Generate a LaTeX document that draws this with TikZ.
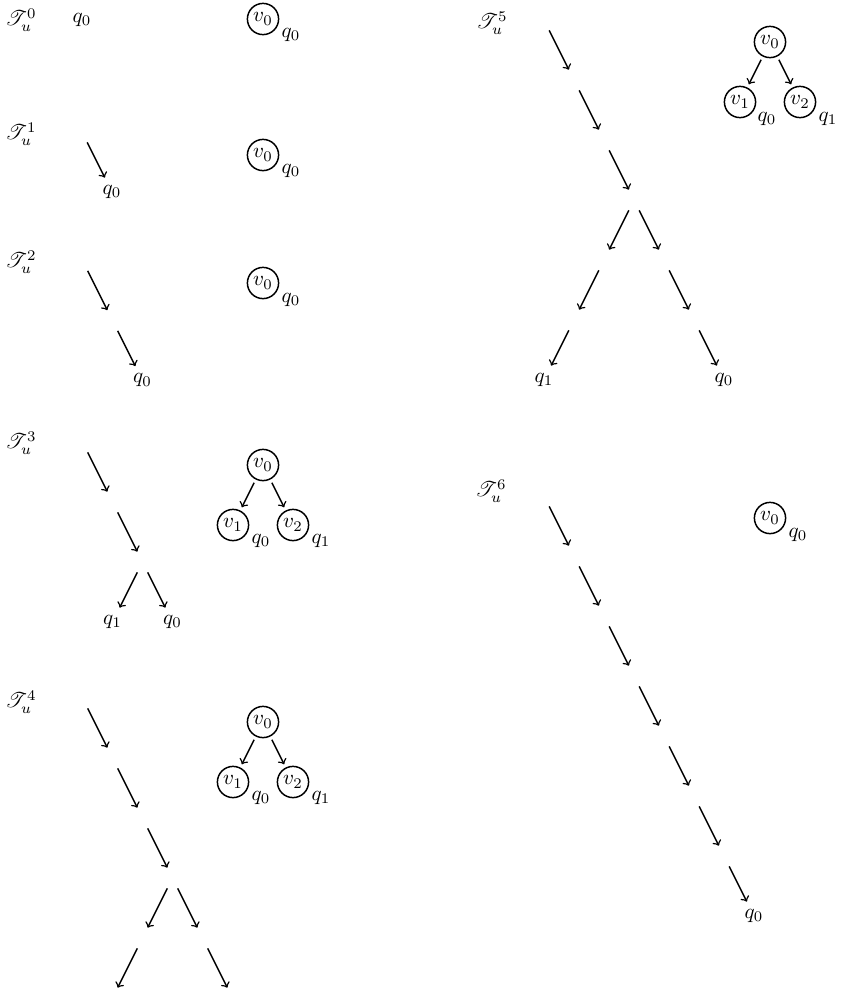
\documentclass[tikz,border=0pt]{standalone}
\usepackage{mathrsfs}
\begin{document}
\begin{tikzpicture}[x=0.0166667cm,y=-0.0166667cm,line width=0.7pt,
  tn/.style={circle,inner sep=0pt,minimum size=0.36cm},
  vn/.style={circle,draw,inner sep=1pt,minimum size=0.52cm,outer sep=2pt},
  ed/.style={->}]
\useasboundingbox (0,0) rectangle (841,995);

% row labels
\node (L0) at (21,20) {$\mathscr{T}_u^0$};
\node (L1) at (21,134) {$\mathscr{T}_u^1$};
\node (L2) at (21,262) {$\mathscr{T}_u^2$};
\node (L3) at (21,443) {$\mathscr{T}_u^3$};
\node (L4) at (21,702) {$\mathscr{T}_u^4$};
\node (L5) at (492,23) {$\mathscr{T}_u^5$};
\node (L6) at (491,491) {$\mathscr{T}_u^6$};

% T0
\node (a0) at (82,20) {$q_0$};
\node[vn] (av0) at (263,19) {$v_0$};
\node (avq0) at (291,35) {$q_0$};

% T1
\node[tn] (b0) at (82,132) {};
\node (b1) at (112,192) {$q_0$};
\draw[ed] (b0) -- (b1);
\node[vn] (bv0) at (263,155) {$v_0$};
\node (bvq0) at (291,171) {$q_0$};

% T2
\node[tn] (c0) at (82.5,260.5) {};
\node[tn] (c1) at (112.5,320.5) {};
\node (c2) at (142.5,380.5) {$q_0$};
\draw[ed] (c0) -- (c1);
\draw[ed] (c1) -- (c2);
\node[vn] (cv0) at (263,283) {$v_0$};
\node (cvq0) at (291,300) {$q_0$};

% T3
\node[tn] (d0) at (82.5,442) {};
\node[tn] (d1) at (112.5,502) {};
\node[tn] (d2) at (142.5,562) {};
\node (d3) at (112.5,622) {$q_1$};
\node (d4) at (172.5,622) {$q_0$};
\foreach \s/\t in {d0/d1,d1/d2,d2/d3,d2/d4} \draw[ed] (\s) -- (\t);
\node[vn] (dv0) at (263,465) {$v_0$};
\node[vn] (dv1) at (233,525) {$v_1$};
\node[vn] (dv2) at (293,525) {$v_2$};
\node (dvq1) at (261,541) {$q_0$};
\node (dvq2) at (321,541) {$q_1$};
\draw[ed] (dv0) -- (dv1);
\draw[ed] (dv0) -- (dv2);

% T4
\node[tn] (e0) at (82.5,698) {};
\node[tn] (e1) at (112.5,758) {};
\node[tn] (e2) at (142.5,818) {};
\node[tn] (e3) at (172.5,878) {};
\node[tn] (e4) at (142.5,938) {};
\node[tn] (e5) at (202.5,938) {};
\node[tn] (e6) at (112.5,998) {};
\node[tn] (e7) at (232.5,998) {};
\foreach \s/\t in {e0/e1,e1/e2,e2/e3,e3/e4,e3/e5,e4/e6,e5/e7} \draw[ed] (\s) -- (\t);
\node[vn] (ev0) at (263,722) {$v_0$};
\node[vn] (ev1) at (233,782) {$v_1$};
\node[vn] (ev2) at (293,782) {$v_2$};
\node (evq1) at (261,798) {$q_0$};
\node (evq2) at (321,798) {$q_1$};
\draw[ed] (ev0) -- (ev1);
\draw[ed] (ev0) -- (ev2);

% T5
\node[tn] (f0) at (544,20) {};
\node[tn] (f1) at (574,80) {};
\node[tn] (f2) at (604,140) {};
\node[tn] (f3) at (634,200) {};
\node[tn] (f4) at (604,260) {};
\node[tn] (f5) at (664,260) {};
\node[tn] (f6) at (574,320) {};
\node[tn] (f7) at (694,320) {};
\node (f8) at (544,380) {$q_1$};
\node (f9) at (724,380) {$q_0$};
\foreach \s/\t in {f0/f1,f1/f2,f2/f3,f3/f4,f3/f5,f4/f6,f5/f7,f6/f8,f7/f9} \draw[ed] (\s) -- (\t);
\node[vn] (fv0) at (770,42) {$v_0$};
\node[vn] (fv1) at (740,102) {$v_1$};
\node[vn] (fv2) at (800,102) {$v_2$};
\node (fvq1) at (767,119) {$q_0$};
\node (fvq2) at (828,119) {$q_1$};
\draw[ed] (fv0) -- (fv1);
\draw[ed] (fv0) -- (fv2);

% T6
\node[tn] (g0) at (544,496) {};
\foreach \k in {1,...,6} \node[tn] (g\k) at (544+30*\k,496+60*\k) {};
\node (g7) at (754,916) {$q_0$};
\foreach \s/\t in {g0/g1,g1/g2,g2/g3,g3/g4,g4/g5,g5/g6,g6/g7} \draw[ed] (\s) -- (\t);
\node[vn] (gv0) at (770,518) {$v_0$};
\node (gvq0) at (798,535) {$q_0$};
\end{tikzpicture}
\end{document}
